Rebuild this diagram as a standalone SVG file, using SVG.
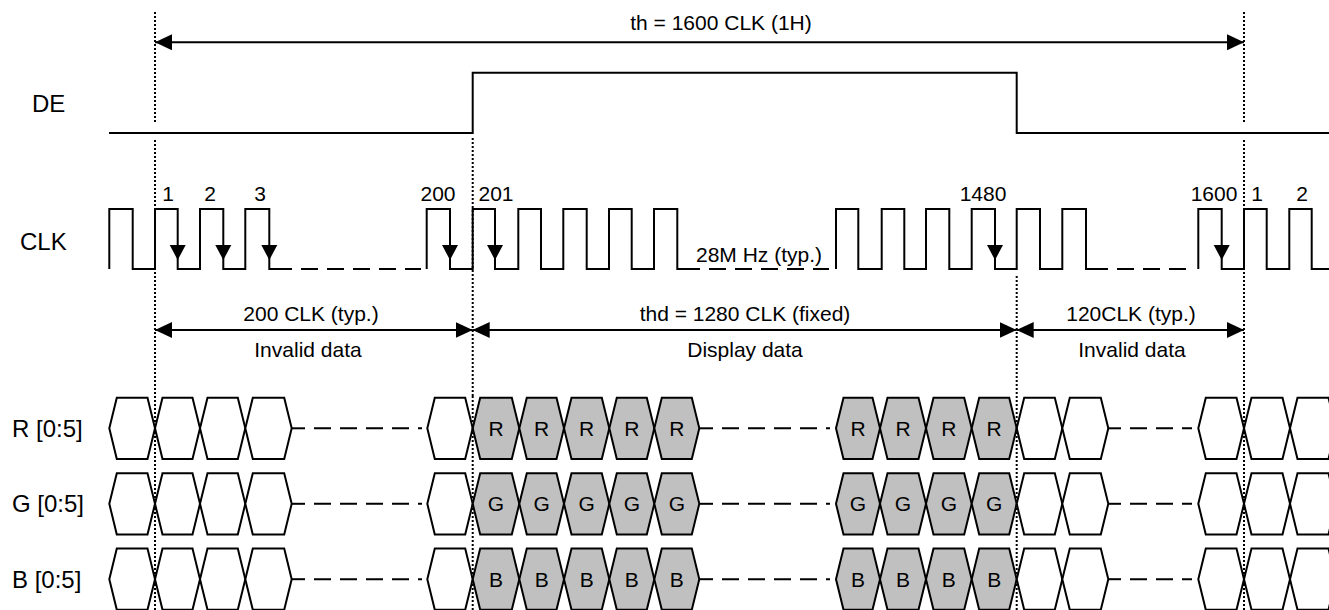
<svg xmlns="http://www.w3.org/2000/svg" width="1329" height="610" viewBox="0 0 1329 610">
<style>
  text { font-family: "Liberation Sans", Arial, sans-serif; fill: #000; }
  .lbl { font-size: 24px; }
  .ann { font-size: 21px; }
  .mid { text-anchor: middle; }
  .wave { fill: none; stroke: #000; stroke-width: 2; stroke-linejoin: miter; }
  .dash { fill: none; stroke: #000; stroke-width: 2; stroke-dasharray: 17 9; }
  .dot { fill: none; stroke: #000; stroke-width: 2; stroke-dasharray: 2 2; }
  .dim { fill: none; stroke: #000; stroke-width: 2; marker-start: url(#ah); marker-end: url(#ah); }
  .w { fill: #fff; stroke: #000; stroke-width: 2; stroke-linejoin: miter; }
  .g { fill: #c0c0c0; stroke: #000; stroke-width: 2; stroke-linejoin: miter; }
  .ck { fill: #000; stroke: none; }
</style>
<defs>
  <marker id="ah" viewBox="0 0 17 16" refX="17" refY="8" markerWidth="17" markerHeight="16" markerUnits="userSpaceOnUse" orient="auto-start-reverse">
    <path d="M0,0 L17,8 L0,16 Z" fill="#000"/>
  </marker>
  <path id="cka" d="M-8,-15 L8,-15 L0,0 Z"/>
</defs>

<!-- dotted reference lines (upper part) -->
<g id="guides">
  <path class="dot" d="M155,12 V124 M155,140 V396"/>
  <path class="dot" d="M472.7,138 V396"/>
  <path class="dot" d="M1016.7,276 V396"/>
  <path class="dot" d="M1244,12 V124 M1244,140 V396"/>
</g>

<!-- signal labels -->
<g id="labels">
  <text class="lbl" x="32" y="112">DE</text>
  <text class="lbl" x="20" y="250">CLK</text>
  <text class="lbl" x="12" y="437">R [0:5]</text>
  <text class="lbl" x="12" y="512">G [0:5]</text>
  <text class="lbl" x="12" y="588">B [0:5]</text>
</g>

<!-- DE waveform -->
<g id="de">
  <path class="wave" d="M109,133 H472.7 V72.7 H1016.7 V133 H1329"/>
</g>

<!-- CLK waveform -->
<g id="clk">
  <path class="wave" d="M109.3,269 V209 H132.7 V269 H155 V209 H177.7 V269 H200 V209 H223.3 V269 H245.3 V209 H269.3 V269 H292"/>
  <path class="dash" d="M301,269 H421"/>
  <path class="wave" d="M426.7,269 V209 H450 V269 H472.7 V209 H495 V269 H518.3 V209 H541 V269 H563.3 V209 H586.7 V269 H609 V209 H631.7 V269 H654 V209 H677.3 V269 H700"/>
  <path class="dash" d="M709,269 H829"/>
  <path class="wave" d="M836,269 V209 H858.3 V269 H881.7 V209 H904.3 V269 H926 V209 H949.3 V269 H971.7 V209 H995 V269 H1016.7 V209 H1040 V269 H1062.3 V209 H1086 V269 H1108"/>
  <path class="dash" d="M1117,269 H1192"/>
  <path class="wave" d="M1198.3,269 V209 H1221.7 V269 H1244 V209 H1266.7 V269 H1289.3 V209 H1311.7 V269 H1329"/>
  <g class="ck">
    <use href="#cka" x="177.7" y="260"/>
    <use href="#cka" x="223.3" y="260"/>
    <use href="#cka" x="269.3" y="260"/>
    <use href="#cka" x="450" y="260"/>
    <use href="#cka" x="495" y="260"/>
    <use href="#cka" x="995" y="260"/>
    <use href="#cka" x="1221.7" y="260"/>
  </g>
  <g class="ann mid">
    <text x="168" y="201">1</text>
    <text x="210" y="201">2</text>
    <text x="260" y="201">3</text>
    <text x="438" y="201">200</text>
    <text x="496" y="201">201</text>
    <text x="983" y="201">1480</text>
    <text x="1214" y="201">1600</text>
    <text x="1257" y="201">1</text>
    <text x="1302" y="201">2</text>
  </g>
  <text class="ann" x="696" y="262">28M Hz (typ.)</text>
</g>

<!-- dimension arrows -->
<g id="connectors">
  <path class="dim" d="M155,42.3 H1244"/>
  <path class="dim" d="M155,330 H472.7"/>
  <path class="dim" d="M472.7,330 H1016.7"/>
  <path class="dim" d="M1016.7,330 H1244"/>
</g>
<g id="dimtext" class="ann mid">
  <text x="721" y="30">th = 1600 CLK (1H)</text>
  <text x="311" y="321">200 CLK (typ.)</text>
  <text x="308" y="357">Invalid data</text>
  <text x="745" y="321">thd = 1280 CLK (fixed)</text>
  <text x="745" y="357">Display data</text>
  <text x="1131" y="321">120CLK (typ.)</text>
  <text x="1132" y="357">Invalid data</text>
</g>

<!-- R row -->
<g id="row-r" transform="translate(0,428.3)">
  <polygon class="w" points="109.3,0 116.8,-30.6 147.5,-30.6 155,0 147.5,30.6 116.8,30.6"/>
  <polygon class="w" points="155,0 162.5,-30.6 192.5,-30.6 200,0 192.5,30.6 162.5,30.6"/>
  <polygon class="w" points="200,0 207.5,-30.6 237.8,-30.6 245.3,0 237.8,30.6 207.5,30.6"/>
  <polygon class="w" points="245.3,0 252.8,-30.6 284.2,-30.6 291.7,0 284.2,30.6 252.8,30.6"/>
  <path class="wave" d="M291.7,0 H305"/>
  <path class="dash" d="M314,0 H422"/>
  <polygon class="w" points="427.3,0 434.8,-30.6 465.2,-30.6 472.7,0 465.2,30.6 434.8,30.6"/>
  <polygon class="g" points="472.7,0 480.2,-30.6 511.8,-30.6 519.3,0 511.8,30.6 480.2,30.6"/>
  <polygon class="g" points="519.3,0 526.8,-30.6 556.5,-30.6 564,0 556.5,30.6 526.8,30.6"/>
  <polygon class="g" points="564,0 571.5,-30.6 601.8,-30.6 609.3,0 601.8,30.6 571.5,30.6"/>
  <polygon class="g" points="609.3,0 616.8,-30.6 646.8,-30.6 654.3,0 646.8,30.6 616.8,30.6"/>
  <polygon class="g" points="654.3,0 661.8,-30.6 691.8,-30.6 699.3,0 691.8,30.6 661.8,30.6"/>
  <path class="wave" d="M699.3,0 H713"/>
  <path class="dash" d="M722,0 H830"/>
  <polygon class="g" points="836,0 843.5,-30.6 872.5,-30.6 880,0 872.5,30.6 843.5,30.6"/>
  <polygon class="g" points="880,0 887.5,-30.6 918.5,-30.6 926,0 918.5,30.6 887.5,30.6"/>
  <polygon class="g" points="926,0 933.5,-30.6 964.2,-30.6 971.7,0 964.2,30.6 933.5,30.6"/>
  <polygon class="g" points="971.7,0 979.2,-30.6 1009.2,-30.6 1016.7,0 1009.2,30.6 979.2,30.6"/>
  <polygon class="w" points="1016.7,0 1024.2,-30.6 1054.8,-30.6 1062.3,0 1054.8,30.6 1024.2,30.6"/>
  <polygon class="w" points="1062.3,0 1069.8,-30.6 1100.8,-30.6 1108.3,0 1100.8,30.6 1069.8,30.6"/>
  <path class="wave" d="M1108.3,0 H1121"/>
  <path class="dash" d="M1130,0 H1192"/>
  <polygon class="w" points="1198.3,0 1205.8,-30.6 1236.5,-30.6 1244,0 1236.5,30.6 1205.8,30.6"/>
  <polygon class="w" points="1244,0 1251.5,-30.6 1282.5,-30.6 1290,0 1282.5,30.6 1251.5,30.6"/>
  <polygon class="w" points="1290,0 1297.5,-30.6 1328.5,-30.6 1336,0 1328.5,30.6 1297.5,30.6"/>
  <g class="ann mid">
    <text x="496" y="7.5">R</text><text x="541.7" y="7.5">R</text><text x="586.7" y="7.5">R</text><text x="631.8" y="7.5">R</text><text x="676.8" y="7.5">R</text>
    <text x="858" y="7.5">R</text><text x="903" y="7.5">R</text><text x="948.8" y="7.5">R</text><text x="994.2" y="7.5">R</text>
  </g>
</g>

<!-- G row -->
<g id="row-g" transform="translate(0,503.8)">
  <polygon class="w" points="109.3,0 116.8,-30.6 147.5,-30.6 155,0 147.5,30.6 116.8,30.6"/>
  <polygon class="w" points="155,0 162.5,-30.6 192.5,-30.6 200,0 192.5,30.6 162.5,30.6"/>
  <polygon class="w" points="200,0 207.5,-30.6 237.8,-30.6 245.3,0 237.8,30.6 207.5,30.6"/>
  <polygon class="w" points="245.3,0 252.8,-30.6 284.2,-30.6 291.7,0 284.2,30.6 252.8,30.6"/>
  <path class="wave" d="M291.7,0 H305"/>
  <path class="dash" d="M314,0 H422"/>
  <polygon class="w" points="427.3,0 434.8,-30.6 465.2,-30.6 472.7,0 465.2,30.6 434.8,30.6"/>
  <polygon class="g" points="472.7,0 480.2,-30.6 511.8,-30.6 519.3,0 511.8,30.6 480.2,30.6"/>
  <polygon class="g" points="519.3,0 526.8,-30.6 556.5,-30.6 564,0 556.5,30.6 526.8,30.6"/>
  <polygon class="g" points="564,0 571.5,-30.6 601.8,-30.6 609.3,0 601.8,30.6 571.5,30.6"/>
  <polygon class="g" points="609.3,0 616.8,-30.6 646.8,-30.6 654.3,0 646.8,30.6 616.8,30.6"/>
  <polygon class="g" points="654.3,0 661.8,-30.6 691.8,-30.6 699.3,0 691.8,30.6 661.8,30.6"/>
  <path class="wave" d="M699.3,0 H713"/>
  <path class="dash" d="M722,0 H830"/>
  <polygon class="g" points="836,0 843.5,-30.6 872.5,-30.6 880,0 872.5,30.6 843.5,30.6"/>
  <polygon class="g" points="880,0 887.5,-30.6 918.5,-30.6 926,0 918.5,30.6 887.5,30.6"/>
  <polygon class="g" points="926,0 933.5,-30.6 964.2,-30.6 971.7,0 964.2,30.6 933.5,30.6"/>
  <polygon class="g" points="971.7,0 979.2,-30.6 1009.2,-30.6 1016.7,0 1009.2,30.6 979.2,30.6"/>
  <polygon class="w" points="1016.7,0 1024.2,-30.6 1054.8,-30.6 1062.3,0 1054.8,30.6 1024.2,30.6"/>
  <polygon class="w" points="1062.3,0 1069.8,-30.6 1100.8,-30.6 1108.3,0 1100.8,30.6 1069.8,30.6"/>
  <path class="wave" d="M1108.3,0 H1121"/>
  <path class="dash" d="M1130,0 H1192"/>
  <polygon class="w" points="1198.3,0 1205.8,-30.6 1236.5,-30.6 1244,0 1236.5,30.6 1205.8,30.6"/>
  <polygon class="w" points="1244,0 1251.5,-30.6 1282.5,-30.6 1290,0 1282.5,30.6 1251.5,30.6"/>
  <polygon class="w" points="1290,0 1297.5,-30.6 1328.5,-30.6 1336,0 1328.5,30.6 1297.5,30.6"/>
  <g class="ann mid">
    <text x="496" y="7.5">G</text><text x="541.7" y="7.5">G</text><text x="586.7" y="7.5">G</text><text x="631.8" y="7.5">G</text><text x="676.8" y="7.5">G</text>
    <text x="858" y="7.5">G</text><text x="903" y="7.5">G</text><text x="948.8" y="7.5">G</text><text x="994.2" y="7.5">G</text>
  </g>
</g>

<!-- B row -->
<g id="row-b" transform="translate(0,579.2)">
  <polygon class="w" points="109.3,0 116.8,-30.6 147.5,-30.6 155,0 147.5,30.6 116.8,30.6"/>
  <polygon class="w" points="155,0 162.5,-30.6 192.5,-30.6 200,0 192.5,30.6 162.5,30.6"/>
  <polygon class="w" points="200,0 207.5,-30.6 237.8,-30.6 245.3,0 237.8,30.6 207.5,30.6"/>
  <polygon class="w" points="245.3,0 252.8,-30.6 284.2,-30.6 291.7,0 284.2,30.6 252.8,30.6"/>
  <path class="wave" d="M291.7,0 H305"/>
  <path class="dash" d="M314,0 H422"/>
  <polygon class="w" points="427.3,0 434.8,-30.6 465.2,-30.6 472.7,0 465.2,30.6 434.8,30.6"/>
  <polygon class="g" points="472.7,0 480.2,-30.6 511.8,-30.6 519.3,0 511.8,30.6 480.2,30.6"/>
  <polygon class="g" points="519.3,0 526.8,-30.6 556.5,-30.6 564,0 556.5,30.6 526.8,30.6"/>
  <polygon class="g" points="564,0 571.5,-30.6 601.8,-30.6 609.3,0 601.8,30.6 571.5,30.6"/>
  <polygon class="g" points="609.3,0 616.8,-30.6 646.8,-30.6 654.3,0 646.8,30.6 616.8,30.6"/>
  <polygon class="g" points="654.3,0 661.8,-30.6 691.8,-30.6 699.3,0 691.8,30.6 661.8,30.6"/>
  <path class="wave" d="M699.3,0 H713"/>
  <path class="dash" d="M722,0 H830"/>
  <polygon class="g" points="836,0 843.5,-30.6 872.5,-30.6 880,0 872.5,30.6 843.5,30.6"/>
  <polygon class="g" points="880,0 887.5,-30.6 918.5,-30.6 926,0 918.5,30.6 887.5,30.6"/>
  <polygon class="g" points="926,0 933.5,-30.6 964.2,-30.6 971.7,0 964.2,30.6 933.5,30.6"/>
  <polygon class="g" points="971.7,0 979.2,-30.6 1009.2,-30.6 1016.7,0 1009.2,30.6 979.2,30.6"/>
  <polygon class="w" points="1016.7,0 1024.2,-30.6 1054.8,-30.6 1062.3,0 1054.8,30.6 1024.2,30.6"/>
  <polygon class="w" points="1062.3,0 1069.8,-30.6 1100.8,-30.6 1108.3,0 1100.8,30.6 1069.8,30.6"/>
  <path class="wave" d="M1108.3,0 H1121"/>
  <path class="dash" d="M1130,0 H1192"/>
  <polygon class="w" points="1198.3,0 1205.8,-30.6 1236.5,-30.6 1244,0 1236.5,30.6 1205.8,30.6"/>
  <polygon class="w" points="1244,0 1251.5,-30.6 1282.5,-30.6 1290,0 1282.5,30.6 1251.5,30.6"/>
  <polygon class="w" points="1290,0 1297.5,-30.6 1328.5,-30.6 1336,0 1328.5,30.6 1297.5,30.6"/>
  <g class="ann mid">
    <text x="496" y="7.5">B</text><text x="541.7" y="7.5">B</text><text x="586.7" y="7.5">B</text><text x="631.8" y="7.5">B</text><text x="676.8" y="7.5">B</text>
    <text x="858" y="7.5">B</text><text x="903" y="7.5">B</text><text x="948.8" y="7.5">B</text><text x="994.2" y="7.5">B</text>
  </g>
</g>

<!-- dotted reference lines through the data rows -->
<g id="guides-rows">
  <path class="dot" d="M155,396 V610"/>
  <path class="dot" d="M472.7,396 V610"/>
  <path class="dot" d="M1016.7,396 V610"/>
  <path class="dot" d="M1244,396 V610"/>
</g>
</svg>
